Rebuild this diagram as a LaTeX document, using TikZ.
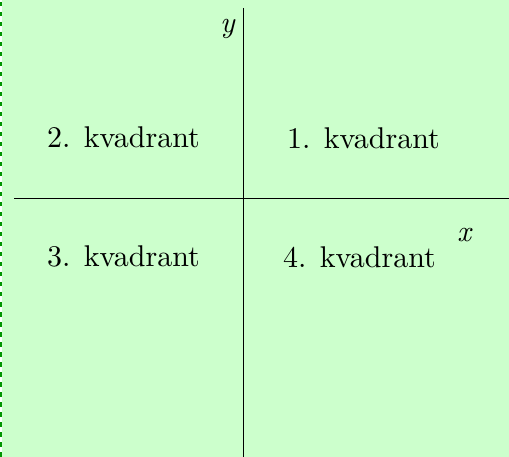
\documentclass[tikz,border=0pt]{standalone}
\usepackage{fontspec}
\newfontfamily\lmten{lmroman10-regular.otf}[ItalicFont=lmroman10-italic.otf]
\definecolor{bg}{RGB}{204,255,204}
\definecolor{frame}{RGB}{0,150,0}
\begin{document}
\begin{tikzpicture}[x=1pt,y=-1pt,
  lbl/.style={anchor=base west,inner sep=0pt,font=\lmten\fontsize{30}{36}\selectfont},
  axis/.style={draw=black,line width=0.9pt}]
\path[fill=bg] (0,0) rectangle (509,457);
\useasboundingbox (0,0) rectangle (509,457);
\path[fill=white] (0,0) rectangle (2,457);
\draw[frame,line width=2pt,dash pattern=on 4.5pt off 5.5pt] (1,2) -- (1,457);
\coordinate (yt) at (243,8);
\coordinate (yb) at (243,457);
\coordinate (xl) at (14,198);
\coordinate (xr) at (509,198);
\draw[axis] (yt) -- (yb);
\draw[axis] (xl) -- (xr);
\node[lbl] (q2) at (47,148) {2. kvadrant};
\node[lbl] (q1) at (287,149) {1. kvadrant};
\node[lbl] (q3) at (47,267) {3. kvadrant};
\node[lbl] (q4) at (283,268) {4. kvadrant};
\node[lbl] (ylab) at (220,33) {\itshape y};
\node[lbl] (xlab) at (457,242) {\itshape x};
\end{tikzpicture}
\end{document}
